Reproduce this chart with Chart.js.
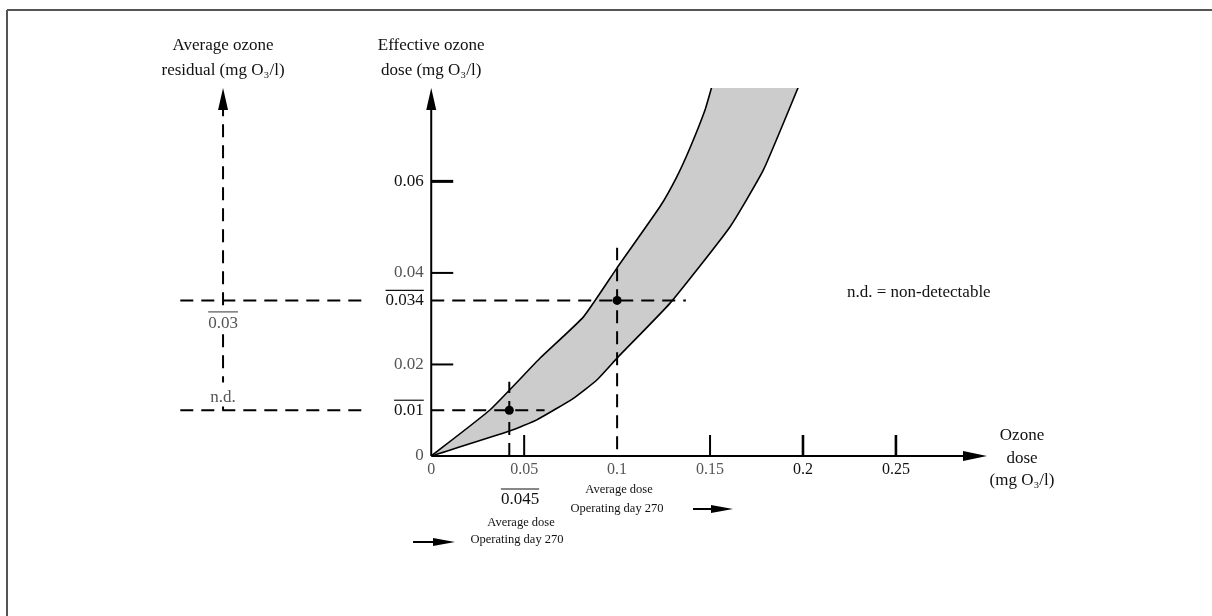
<!DOCTYPE html>
<html>
<head>
<meta charset="utf-8">
<script src="https://cdn.jsdelivr.net/npm/chart.js@4.4.0/dist/chart.umd.min.js"></script>
<style>html,body{margin:0;padding:0;background:#fff}canvas{display:block}</style>
</head>
<body>
<canvas id="c" width="1212" height="616"></canvas>
<script>
// band of effective ozone dose vs ozone dose (upper / lower edge)
const upperCurve = [[0,0],[0.0317,0.0101],[0.0586,0.0214],[0.0819,0.0304],[0.0998,0.041],[0.1231,0.0545],[0.1321,0.061],[0.1392,0.0673],[0.1473,0.0756],[0.1509,0.0806]];
const lowerCurve = [[0,0],[0.0425,0.0055],[0.0568,0.0079],[0.0765,0.0126],[0.0891,0.0166],[0.1007,0.0217],[0.1285,0.0334],[0.1608,0.0501],[0.1787,0.0625],[0.1975,0.0806]];
const avgPoints = [[0.042,0.01],[0.1,0.034]];

const xTicks = [0,0.05,0.1,0.15,0.2,0.25];
const xTickLabels = ['0','0.05','0.1','0.15','0.2','0.25'];
const yTicks = [0,0.01,0.02,0.034,0.04,0.06];
const yTickLabels = ['0','0.01','0.02','0.034','0.04','0.06'];
const overlinedY = [0.01,0.034];
const xTickMarks = [0.05,0.15,0.2,0.25];
const yTickMarks = [0.02,0.04,0.06];

// dashed guides: [y, x from, x to] (broken where the axis label sits) and [x, y from, y to]
const guideH = [[0.034,-0.135,-0.034],[0.034,0,0.137],[0.01,-0.135,-0.034],[0.01,0,0.061]];
const guideV = [[0.042,0,0.0162],[0.1,0.0015,0.0455]];
// residual axis (left, dashed) in x units of the main scale
const residualX = -0.112;
const residualRange = [0.01,0.0765];
const residualLabels = ['0.03','n.d.'];
const residualLabelY = [0.0293,0.013];

const SERIF = '"Liberation Serif","Times New Roman",serif';
const STRONG = [0.06,0.034,0.01,0.2,0.25];
const pts = a => a.map(([x,y]) => ({x,y}));
const DASH = {borderColor:'#000',borderWidth:2,borderDash:[13,8],pointRadius:0,fill:false,order:1};
const tickVal = c => c.tick ? c.tick.value : null;

function txt(ctx,s,x,y,size,align,color){
  ctx.font = size+'px '+SERIF; ctx.textAlign = align||'center';
  ctx.textBaseline = 'alphabetic'; ctx.fillStyle = color||'#111';
  ctx.fillText(s,x,y);
  return ctx.measureText(s).width;
}
function headUp(ctx,x,y){ctx.beginPath();ctx.moveTo(x,y);ctx.lineTo(x-5,y+22);ctx.lineTo(x+5,y+22);ctx.closePath();ctx.fill();}
function headRight(ctx,x,y,len,half){ctx.beginPath();ctx.moveTo(x,y);ctx.lineTo(x-len,y-half);ctx.lineTo(x-len,y+half);ctx.closePath();ctx.fill();}
function line(ctx,x0,y0,x1,y1,w){ctx.lineWidth=w;ctx.beginPath();ctx.moveTo(x0,y0);ctx.lineTo(x1,y1);ctx.stroke();}

const decor = {
  id:'decor',
  beforeDraw(chart){
    const ctx=chart.ctx; ctx.save(); ctx.strokeStyle='#555';
    line(ctx,7,10,1212,10,2); line(ctx,7,10,7,616,2);
    ctx.restore();
  },
  afterDatasetsDraw(chart){
    const ctx=chart.ctx, xs=chart.scales.x, ys=chart.scales.y, a=chart.chartArea;
    const x0=xs.getPixelForValue(0), y0=ys.getPixelForValue(0);
    ctx.save(); ctx.strokeStyle='#000'; ctx.fillStyle='#000'; ctx.lineCap='butt';
    // main axes
    line(ctx,x0,y0,a.right-18,y0,2); headRight(ctx,a.right,y0,24,5);
    line(ctx,x0,y0,x0,a.top+18,2); headUp(ctx,x0,a.top);
    // residual axis arrow
    headUp(ctx,xs.getPixelForValue(residualX),a.top);
    // tick marks
    xTickMarks.forEach(v=>{const p=xs.getPixelForValue(v);line(ctx,p,y0,p,y0-21,v>=0.2?2.6:2);});
    yTickMarks.forEach(v=>{const p=ys.getPixelForValue(v);line(ctx,x0,p,x0+22,p,v===0.06?3:2);});
    ctx.restore();
  },
  afterDraw(chart){
    const ctx=chart.ctx, xs=chart.scales.x, ys=chart.scales.y;
    const x0=xs.getPixelForValue(0), rx=xs.getPixelForValue(residualX);
    ctx.save(); ctx.strokeStyle='#111'; ctx.fillStyle='#111';
    // overlines on emphasised y tick labels
    const lx=xs.getPixelForValue(-0.004);
    ctx.font='17px '+SERIF;
    overlinedY.forEach(v=>{
      const w=ctx.measureText(yTickLabels[yTicks.indexOf(v)]).width, p=ys.getPixelForValue(v)-10;
      line(ctx,lx-w,p,lx,p,1.2);
    });
    // residual axis labels (white backing breaks the dashed line)
    residualLabels.forEach((s,i)=>{
      const p=ys.getPixelForValue(residualLabelY[i]);
      ctx.fillStyle='#fff'; ctx.fillRect(rx-18,p-14,36,24);
      const w=txt(ctx,s,rx,p+6,17,'center','#555');
      if(i===0){ctx.strokeStyle='#555';line(ctx,rx-w/2,p-10,rx+w/2,p-10,1.2);}
    });
    // axis titles
    txt(ctx,'Average ozone',rx,50,17); txt(ctx,'residual (mg O\u2083/l)',rx,75,17);
    txt(ctx,'Effective ozone',x0,50,17); txt(ctx,'dose (mg O\u2083/l)',x0,75,17);
    txt(ctx,'Ozone',1022,440,17); txt(ctx,'dose',1022,463,17); txt(ctx,'(mg O\u2083/l)',1022,485,17);
    txt(ctx,'n.d. = non-detectable',847,297,17,'left');
    // average dose annotations
    ctx.strokeStyle='#111';
    const w=txt(ctx,'0.045',520,504,17); line(ctx,520-w/2,489,520+w/2,489,1.2);
    txt(ctx,'Average dose',521,526,12.5); txt(ctx,'Operating day 270',517,543,12.5);
    txt(ctx,'Average dose',619,493,12.5); txt(ctx,'Operating day 270',617,512,12.5);
    ctx.fillStyle='#000'; ctx.strokeStyle='#000';
    line(ctx,413,542,436,542,2); headRight(ctx,455,542,22,4);
    line(ctx,693,509,714,509,2); headRight(ctx,733,509,22,4);
    ctx.restore();
  }
};

new Chart(document.getElementById('c'),{
  type:'line',
  data:{datasets:[
    {data:pts(upperCurve),borderColor:'#000',borderWidth:1.6,pointRadius:0,fill:'end',backgroundColor:'#fff',tension:0.15,order:2},
    {data:pts(lowerCurve),borderColor:'#000',borderWidth:1.6,pointRadius:0,fill:'end',backgroundColor:'#cccccc',tension:0.15,order:3},
    ...guideH.map(([y,a,b])=>Object.assign({data:[{x:a,y},{x:b,y}]},DASH)),
    ...guideV.map(([x,a,b])=>Object.assign({data:[{x,y:a},{x,y:b}]},DASH)),
    Object.assign({data:residualRange.map(y=>({x:residualX,y}))},DASH),
    {data:pts(avgPoints),showLine:false,pointRadius:4.5,pointBorderWidth:0,pointBackgroundColor:'#000',order:0}
  ]},
  options:{
    responsive:false, animation:false, devicePixelRatio:1,
    layout:{padding:{left:171,right:225,top:88,bottom:160}},
    plugins:{legend:{display:false},tooltip:{enabled:false}},
    scales:{
      x:{type:'linear',min:-0.14,max:0.299,position:{y:0},
        grid:{display:false,drawTicks:false},border:{display:false},
        afterBuildTicks:s=>{s.ticks=xTicks.map(v=>({value:v}));},
        ticks:{autoSkip:false,maxRotation:0,padding:4,font:{family:SERIF,size:16},
          color:c=>STRONG.includes(tickVal(c))?'#111':'#555',
          callback:(v,i)=>xTickLabels[i]}},
      y:{type:'linear',min:0,max:0.0804,position:{x:-0.004},
        grid:{display:false,drawTicks:false},border:{display:false},
        afterBuildTicks:s=>{s.ticks=yTicks.map(v=>({value:v}));},
        ticks:{autoSkip:false,font:{family:SERIF,size:17},
          color:c=>STRONG.includes(tickVal(c))?'#111':'#555',
          callback:(v,i)=>yTickLabels[i]}}
    }
  },
  plugins:[decor]
});
</script>
</body>
</html>
